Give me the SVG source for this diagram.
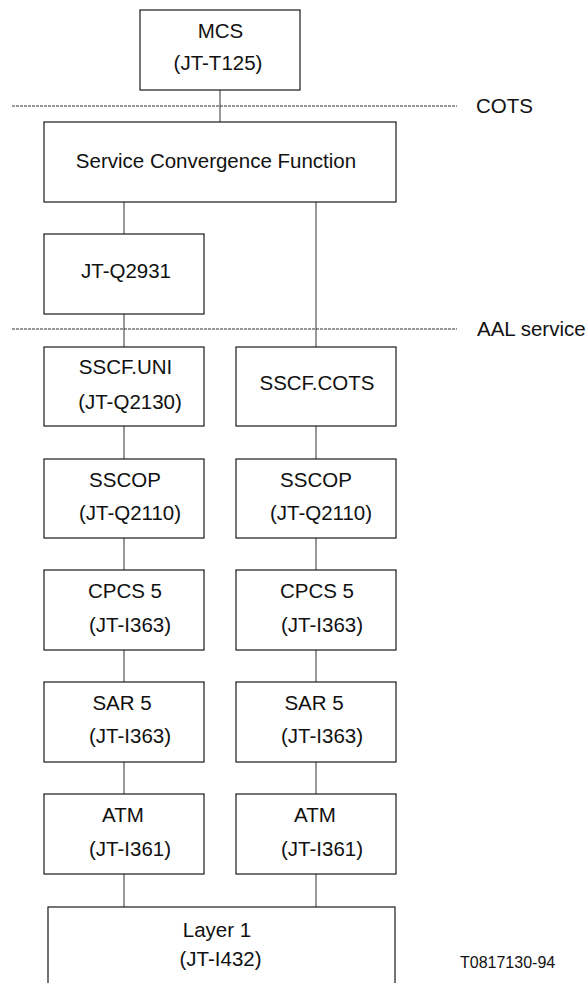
<svg xmlns="http://www.w3.org/2000/svg" width="587" height="983" viewBox="0 0 587 983">
  <style>
    .box { fill: #ffffff; stroke: #1a1a1a; stroke-width: 1.2; }
    .link { stroke: #555555; stroke-width: 1.2; fill: none; }
    .boundary { stroke: #333333; stroke-width: 1; stroke-dasharray: 3 1; fill: none; }
    text { font-family: "Liberation Sans", Arial, sans-serif; font-size: 20.5px; fill: #111111; }
    .c { text-anchor: middle; }
    .ref { font-size: 16px; }
  </style>

  <!-- connectors between protocol layers -->
  <g id="connectors">
    <line class="link" x1="220" y1="90" x2="220" y2="122"/>
    <line class="link" x1="124" y1="202" x2="124" y2="234"/>
    <line class="link" x1="316" y1="202" x2="316" y2="347"/>
    <line class="link" x1="124" y1="314" x2="124" y2="347"/>
    <line class="link" x1="124" y1="426" x2="124" y2="459"/>
    <line class="link" x1="316" y1="426" x2="316" y2="459"/>
    <line class="link" x1="124" y1="538" x2="124" y2="570"/>
    <line class="link" x1="316" y1="538" x2="316" y2="570"/>
    <line class="link" x1="124" y1="650" x2="124" y2="682"/>
    <line class="link" x1="316" y1="650" x2="316" y2="682"/>
    <line class="link" x1="124" y1="762" x2="124" y2="794"/>
    <line class="link" x1="316" y1="762" x2="316" y2="794"/>
    <line class="link" x1="124" y1="874" x2="124" y2="907"/>
    <line class="link" x1="316" y1="874" x2="316" y2="907"/>
  </g>

  <!-- service boundaries -->
  <g id="cots-boundary">
    <line class="boundary" x1="12" y1="106" x2="457" y2="106"/>
    <text x="476" y="113">COTS</text>
  </g>
  <g id="aal-boundary">
    <line class="boundary" x1="12" y1="329" x2="457" y2="329"/>
    <text x="477" y="336">AAL service</text>
  </g>

  <g id="mcs">
    <rect class="box" x="140" y="10" width="160" height="80"/>
    <text class="c" x="220.5" y="38">MCS</text>
    <text class="c" x="218" y="70">(JT-T125)</text>
  </g>

  <g id="scf">
    <rect class="box" x="44" y="122" width="352" height="80"/>
    <text class="c" x="216" y="168">Service Convergence Function</text>
  </g>

  <g id="q2931">
    <rect class="box" x="44" y="234" width="160" height="80"/>
    <text class="c" x="126" y="278">JT-Q2931</text>
  </g>

  <g id="sscf-uni">
    <rect class="box" x="44" y="347" width="160" height="79"/>
    <text class="c" x="125.5" y="374">SSCF.UNI</text>
    <text class="c" x="130" y="409">(JT-Q2130)</text>
  </g>
  <g id="sscf-cots">
    <rect class="box" x="236" y="347" width="160" height="79"/>
    <text class="c" x="317" y="390">SSCF.COTS</text>
  </g>

  <g id="sscop-left">
    <rect class="box" x="44" y="459" width="160" height="79"/>
    <text class="c" x="125" y="487">SSCOP</text>
    <text class="c" x="130" y="520">(JT-Q2110)</text>
  </g>
  <g id="sscop-right">
    <rect class="box" x="236" y="459" width="160" height="79"/>
    <text class="c" x="316" y="487">SSCOP</text>
    <text class="c" x="321" y="520">(JT-Q2110)</text>
  </g>

  <g id="cpcs-left">
    <rect class="box" x="44" y="570" width="160" height="80"/>
    <text class="c" x="125" y="598">CPCS 5</text>
    <text class="c" x="130" y="632">(JT-I363)</text>
  </g>
  <g id="cpcs-right">
    <rect class="box" x="236" y="570" width="160" height="80"/>
    <text class="c" x="317" y="598">CPCS 5</text>
    <text class="c" x="322" y="632">(JT-I363)</text>
  </g>

  <g id="sar-left">
    <rect class="box" x="44" y="682" width="160" height="80"/>
    <text class="c" x="122" y="710">SAR 5</text>
    <text class="c" x="130" y="743">(JT-I363)</text>
  </g>
  <g id="sar-right">
    <rect class="box" x="236" y="682" width="160" height="80"/>
    <text class="c" x="314" y="710">SAR 5</text>
    <text class="c" x="322" y="743">(JT-I363)</text>
  </g>

  <g id="atm-left">
    <rect class="box" x="44" y="794" width="160" height="80"/>
    <text class="c" x="123" y="822">ATM</text>
    <text class="c" x="130" y="856">(JT-I361)</text>
  </g>
  <g id="atm-right">
    <rect class="box" x="236" y="794" width="160" height="80"/>
    <text class="c" x="315" y="822">ATM</text>
    <text class="c" x="322" y="856">(JT-I361)</text>
  </g>

  <g id="layer1">
    <rect class="box" x="48" y="907" width="347" height="100"/>
    <text class="c" x="217" y="937">Layer 1</text>
    <text class="c" x="220.5" y="966">(JT-I432)</text>
  </g>

  <text class="ref" x="460" y="968">T0817130-94</text>
</svg>
